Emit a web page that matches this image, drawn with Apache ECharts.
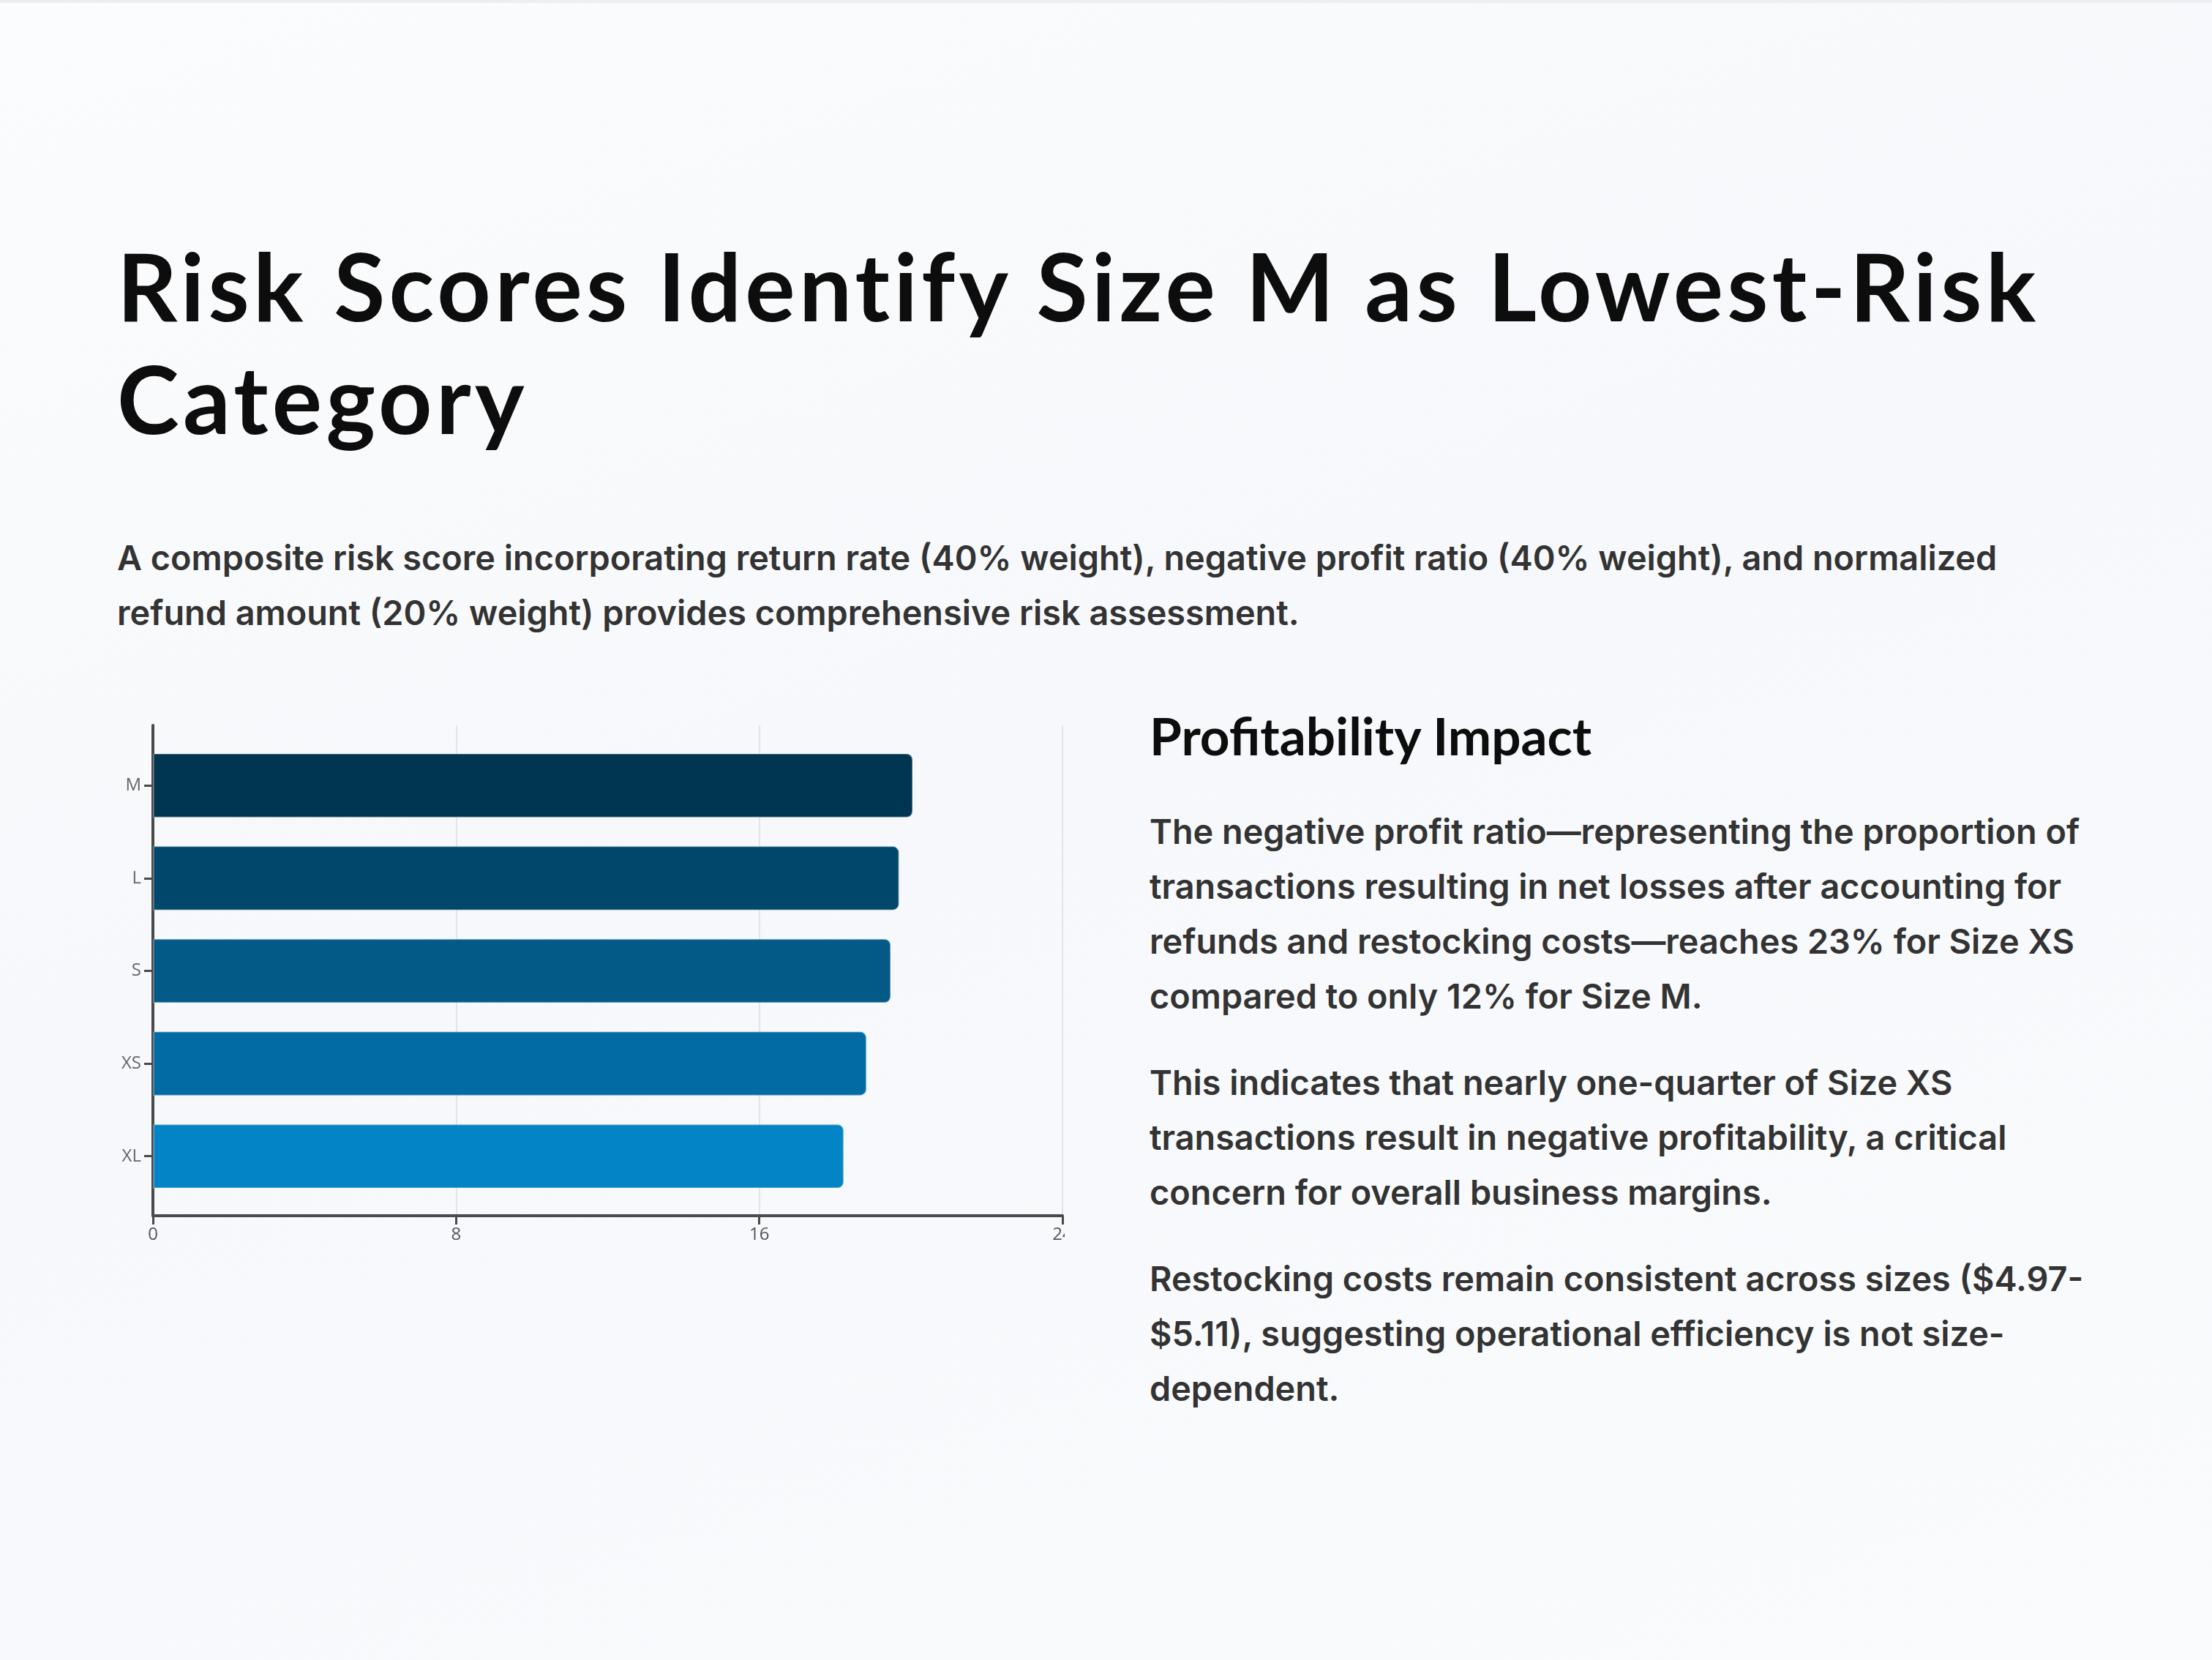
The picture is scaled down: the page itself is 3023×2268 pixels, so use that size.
<!DOCTYPE html>
<html>
<head>
<meta charset="utf-8">
<script src="https://cdn.jsdelivr.net/npm/echarts@6/dist/echarts.min.js"></script>
<style>
  html, body { margin: 0; padding: 0; }
  body {
    width: 3023px; height: 2268px; position: relative; overflow: hidden;
    background: linear-gradient(160deg, #fbfcfd 0%, #f6f8fb 45%, #f9fbfd 100%);
    border-top: 4px solid #eceef1; box-sizing: border-box;
  }
  .title {
    position: absolute; left: 160px; top: 309px;
    font-family: Lato, sans-serif; font-weight: 700; color: #0d0d0d;
    font-size: 128px; line-height: 154px; letter-spacing: 5.3px; white-space: nowrap;
  }
  .lead {
    position: absolute; left: 160px; top: 721px;
    font-family: Inter, sans-serif; font-weight: 600; color: #333333;
    font-size: 46.8px; line-height: 75px; white-space: nowrap;
  }
  #chart { position: absolute; left: 140px; top: 960px; width: 1315px; height: 760px; }
  .side { position: absolute; left: 1571px; top: 958px; width: 1320px; }
  .side h2 {
    margin: 0; font-family: Lato, sans-serif; font-weight: 700; color: #0d0d0d;
    font-size: 71px; line-height: 85px;
  }
  .side p {
    margin: 43px 0 0 0; font-family: Inter, sans-serif; font-weight: 600; color: #333333;
    font-size: 46.8px; line-height: 75px; white-space: nowrap;
  }
  .side h2 + p { margin-top: 52px; }
</style>
</head>
<body>
<div class="title" id="title">Risk Scores Identify Size M as Lowest-Risk<br>Category</div>
<div class="lead">A composite risk score incorporating return rate (40% weight), negative profit ratio (40% weight), and normalized<br>refund amount (20% weight) provides comprehensive risk assessment.</div>
<div id="chart"></div>
<div class="side">
  <h2>Profitability Impact</h2>
  <p>The negative profit ratio—representing the proportion of<br>transactions resulting in net losses after accounting for<br>refunds and restocking costs—reaches 23% for Size XS<br>compared to only 12% for Size M.</p>
  <p>This indicates that nearly one-quarter of Size XS<br>transactions result in negative profitability, a critical<br>concern for overall business margins.</p>
  <p>Restocking costs remain consistent across sizes ($4.97-<br>$5.11), suggesting operational efficiency is not size-<br>dependent.</p>
</div>
<script>
// sizes, top to bottom
const sizes = ['M', 'L', 'S', 'XS', 'XL'];
// composite risk score per size
const riskScores = [20.06, 19.70, 19.48, 18.84, 18.24];
const barColors = ['#003651', '#00476b', '#035a86', '#036ba3', '#0284c7'];
const axisTicks = { min: 0, max: 24, interval: 8 };

const axisColor = '#4a4a4a';
const chart = echarts.init(document.getElementById('chart'));
chart.setOption({
  animation: false,
  grid: [
    // bars
    { left: 69, right: 3, top: 46, bottom: 81, outerBoundsMode: 'none' },
    // frame: full-height y line and vertical grid lines
    { left: 69, right: 3, top: 27, bottom: 63, outerBoundsMode: 'none' },
  ],
  xAxis: [{
    type: 'value',
    gridIndex: 0,
    min: axisTicks.min,
    max: axisTicks.max,
    interval: axisTicks.interval,
    offset: 18,
    axisLine: { show: true, lineStyle: { color: axisColor, width: 4 } },
    axisTick: { show: true, length: 12, lineStyle: { color: axisColor, width: 3 } },
    axisLabel: { color: '#555', fontSize: 24, fontFamily: 'Open Sans', margin: 14 },
    splitLine: { show: false },
  }, {
    type: 'value',
    gridIndex: 1,
    min: axisTicks.min,
    max: axisTicks.max,
    interval: axisTicks.interval,
    axisLine: { show: false },
    axisTick: { show: false },
    axisLabel: { show: false },
    splitLine: { show: true, lineStyle: { color: '#e1e4e8', width: 2 } },
  }],
  yAxis: [{
    type: 'category',
    gridIndex: 0,
    data: sizes,
    inverse: true,
    axisLine: { show: false },
    axisTick: { show: true, alignWithLabel: true, length: 12, lineStyle: { color: axisColor, width: 3 } },
    axisLabel: { color: '#666', fontSize: 24, fontFamily: 'Open Sans', margin: 16 },
    splitLine: { show: false },
  }, {
    type: 'value',
    gridIndex: 1,
    min: 0,
    max: 1,
    axisLine: { show: true, lineStyle: { color: axisColor, width: 4 } },
    axisTick: { show: false },
    axisLabel: { show: false },
    splitLine: { show: false },
  }],
  series: [{
    type: 'bar',
    xAxisIndex: 0,
    yAxisIndex: 0,
    barCategoryGap: '30%',
    data: riskScores.map((v, i) => ({
      value: v,
      itemStyle: { color: barColors[i] },
    })),
    itemStyle: {
      borderRadius: [0, 8, 8, 0],
      borderColor: 'rgba(255,255,255,0.25)',
      borderWidth: 2,
    },
  }],
});
</script>
</body>
</html>
